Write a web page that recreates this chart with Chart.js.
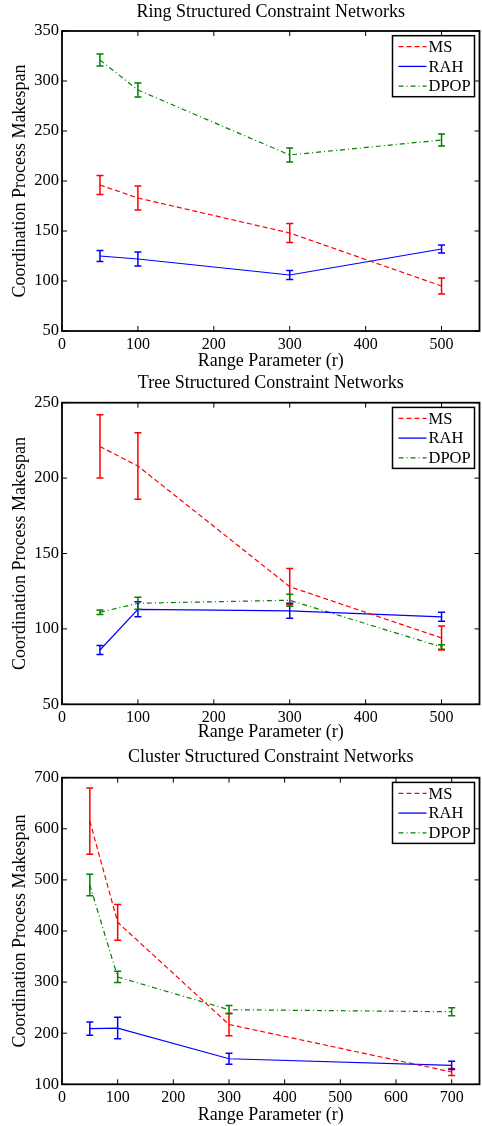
<!DOCTYPE html>
<html>
<head>
<meta charset="utf-8">
<script src="https://cdn.jsdelivr.net/npm/chart.js@4.4.0/dist/chart.umd.min.js"></script>
<style>
html, body { margin: 0; padding: 0; background: #fff; }
.panel { position: absolute; left: 0; width: 482px; }
canvas { display: block; }
</style>
</head>
<body>
<div class="panel" style="top:0px"><canvas id="ring" width="482" height="370"></canvas></div>
<div class="panel" style="top:370px"><canvas id="tree" width="482" height="372"></canvas></div>
<div class="panel" style="top:742px"><canvas id="cluster" width="482" height="384"></canvas></div>
<script>
// range parameter values
const rangeSmall = [50, 100, 300, 500];
const rangeCluster = [50, 100, 300, 700];

// ring structured
const ringMS = [196, 183, 148, 95];
const ringMSErr = [9.5, 12, 9.5, 8];
const ringRAH = [125, 122, 106, 132];
const ringRAHErr = [5.5, 7, 4.5, 4];
const ringDPOP = [321, 291, 226, 241];
const ringDPOPErr = [6, 7, 7, 6];

// tree structured
const treeMS = [221, 208, 128, 94];
const treeMSErr = [21, 22, 12, 8];
const treeRAH = [86, 113, 112, 108];
const treeRAHErr = [3, 5, 5, 3];
const treeDPOP = [111, 117, 119, 88];
const treeDPOPErr = [1.5, 4, 4, 1.5];

// cluster structured
const clusterMS = [615, 417, 217, 124];
const clusterMSErr = [65, 35, 22, 7];
const clusterRAH = [209, 210, 150, 137];
const clusterRAHErr = [13, 21, 11, 8];
const clusterDPOP = [490, 310, 246, 242];
const clusterDPOPErr = [21, 11, 8, 8];

// tick labels
const xTicksSmall = [0, 100, 200, 300, 400, 500];
const xTicksCluster = [0, 100, 200, 300, 400, 500, 600, 700];
const yTicksRing = [50, 100, 150, 200, 250, 300, 350];
const yTicksTree = [50, 100, 150, 200, 250];
const yTicksCluster = [100, 200, 300, 400, 500, 600, 700];

const seriesNames = ['MS', 'RAH', 'DPOP'];

const FONT = '"Liberation Serif", "Times New Roman", Times, serif';
Chart.defaults.font.family = FONT;
Chart.defaults.color = '#000';

const styles = [
    { color: '#ff0000', dash: [5, 3] },
    { color: '#0000ff', dash: [] },
    { color: '#008000', dash: [5, 3, 1, 3] }
];

// error bars, frame with inward ticks, boxed legend
const matlabLook = {
    id: 'matlabLook',
    afterDatasetsDraw(chart) {
        const ctx = chart.ctx, xs = chart.scales.x, ys = chart.scales.y;
        ctx.save();
        chart.data.datasets.forEach(ds => {
            ctx.strokeStyle = ds.borderColor;
            ctx.lineWidth = 1.5;
            ctx.setLineDash([]);
            ds.data.forEach((p, i) => {
                const e = ds.errs[i];
                const px = xs.getPixelForValue(p.x);
                const y1 = ys.getPixelForValue(p.y - e);
                const y2 = ys.getPixelForValue(p.y + e);
                ctx.beginPath();
                ctx.moveTo(px, y1); ctx.lineTo(px, y2);
                ctx.moveTo(px - 3.5, y1); ctx.lineTo(px + 3.5, y1);
                ctx.moveTo(px - 3.5, y2); ctx.lineTo(px + 3.5, y2);
                ctx.stroke();
            });
        });
        ctx.restore();
    },
    afterDraw(chart) {
        const ctx = chart.ctx, a = chart.chartArea;
        const xs = chart.scales.x, ys = chart.scales.y;
        ctx.save();
        ctx.strokeStyle = '#000';
        ctx.setLineDash([]);
        ctx.lineWidth = 1;
        ctx.beginPath();
        xs.ticks.forEach(t => {
            const p = xs.getPixelForValue(t.value);
            ctx.moveTo(p, a.bottom); ctx.lineTo(p, a.bottom - 5);
            ctx.moveTo(p, a.top); ctx.lineTo(p, a.top + 5);
        });
        ys.ticks.forEach(t => {
            const p = ys.getPixelForValue(t.value);
            ctx.moveTo(a.left, p); ctx.lineTo(a.left + 5, p);
            ctx.moveTo(a.right, p); ctx.lineTo(a.right - 5, p);
        });
        ctx.stroke();
        ctx.lineWidth = 1.8;
        ctx.strokeRect(a.left, a.top, a.right - a.left, a.bottom - a.top);

        // legend
        const w = 82, h = 61;
        const lx = a.right - 5 - w, ly = a.top + 4.7;
        ctx.fillStyle = '#fff';
        ctx.fillRect(lx, ly, w, h);
        ctx.lineWidth = 1.5;
        ctx.strokeRect(lx, ly, w, h);
        ctx.font = '16.5px ' + FONT;
        ctx.textBaseline = 'middle';
        chart.data.datasets.forEach((ds, i) => {
            const y = ly + 11 + i * 19.7;
            ctx.strokeStyle = ds.borderColor;
            ctx.lineWidth = 1.3;
            ctx.setLineDash(ds.borderDash);
            ctx.beginPath();
            ctx.moveTo(lx + 6, y); ctx.lineTo(lx + 34, y);
            ctx.stroke();
            ctx.fillStyle = '#000';
            ctx.fillText(ds.label, lx + 36, y + 1);
        });
        ctx.restore();
    }
};

function makeChart(id, title, xs, series, errs, xTicks, yTicks, xMax, lay) {
    const datasets = series.map((vals, k) => ({
        label: seriesNames[k],
        data: xs.map((x, i) => ({ x: x, y: vals[i] })),
        errs: errs[k],
        borderColor: styles[k].color,
        borderDash: styles[k].dash,
        borderWidth: 1.2,
        pointRadius: 0,
        fill: false,
        tension: 0
    }));
    return new Chart(document.getElementById(id), {
        type: 'line',
        data: { datasets: datasets },
        plugins: [matlabLook],
        options: {
            responsive: false,
            animation: false,
            layout: { padding: { left: 0, right: 2.5, top: 0, bottom: 0 } },
            plugins: {
                legend: { display: false },
                tooltip: { enabled: false },
                title: {
                    display: true,
                    text: title,
                    fullSize: false,
                    font: { size: 18, weight: 'normal', lineHeight: 1.2 },
                    padding: { top: lay.titleTop, bottom: lay.titleBottom }
                }
            },
            scales: {
                x: {
                    type: 'linear',
                    min: 0,
                    max: xMax,
                    afterBuildTicks: s => { s.ticks = xTicks.map(v => ({ value: v })); },
                    afterFit: s => { s.height = lay.xHeight; },
                    grid: { display: false, drawTicks: false },
                    border: { display: false },
                    ticks: { font: { size: 16 }, padding: 4, maxRotation: 0, autoSkip: false },
                    title: {
                        display: true,
                        text: 'Range Parameter (r)',
                        font: { size: 18, lineHeight: 1 },
                        padding: { top: 0, bottom: lay.xTitleBottom }
                    }
                },
                y: {
                    type: 'linear',
                    min: yTicks[0],
                    max: yTicks[yTicks.length - 1],
                    afterBuildTicks: s => { s.ticks = yTicks.map(v => ({ value: v })); },
                    afterFit: s => { s.width = 62; },
                    grid: { display: false, drawTicks: false },
                    border: { display: false },
                    ticks: { font: { size: 16.5 }, padding: 3 },
                    title: {
                        display: true,
                        text: 'Coordination Process Makespan',
                        font: { size: 18, lineHeight: 1 },
                        padding: { top: 11, bottom: 0 }
                    }
                }
            }
        }
    });
}

makeChart('ring', 'Ring Structured Constraint Networks', rangeSmall,
    [ringMS, ringRAH, ringDPOP], [ringMSErr, ringRAHErr, ringDPOPErr],
    xTicksSmall, yTicksRing, 550,
    { titleTop: 1.5, titleBottom: 7.9, xHeight: 39, xTitleBottom: 0 });

makeChart('tree', 'Tree Structured Constraint Networks', rangeSmall,
    [treeMS, treeRAH, treeDPOP], [treeMSErr, treeRAHErr, treeDPOPErr],
    xTicksSmall, yTicksTree, 550,
    { titleTop: 2.5, titleBottom: 8.6, xHeight: 37.7, xTitleBottom: 0.5 });

makeChart('cluster', 'Cluster Structured Constraint Networks', rangeCluster,
    [clusterMS, clusterRAH, clusterDPOP], [clusterMSErr, clusterRAHErr, clusterDPOPErr],
    xTicksCluster, yTicksCluster, 750,
    { titleTop: 4.5, titleBottom: 9.6, xHeight: 41.7, xTitleBottom: 2 });
</script>
</body>
</html>
